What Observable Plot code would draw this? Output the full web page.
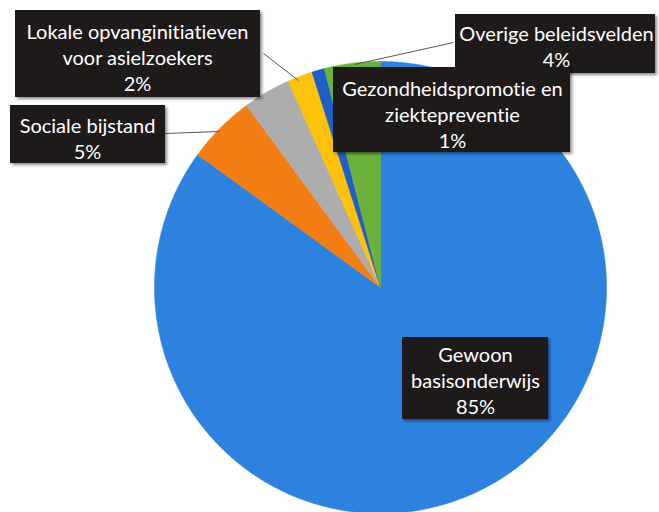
<!DOCTYPE html>
<html>
<head>
<meta charset="utf-8">
<script src="https://cdn.jsdelivr.net/npm/d3@7"></script>
<script src="https://cdn.jsdelivr.net/npm/@observablehq/plot@0.6"></script>
<style>
  html, body { margin: 0; padding: 0; background: #ffffff; }
  #chart svg { display: block; }
  #chart text { font-variant-ligatures: none; font-feature-settings: "liga" 0, "clig" 0; }
  #chart g[aria-label="rect"] rect { filter: drop-shadow(2px 2px 1.5px rgba(0,0,0,0.45)); }
</style>
</head>
<body>
<div id="chart"></div>
<script>
// ---- data ----
const categories = [
  "Gewoon basisonderwijs",
  "Sociale bijstand",
  "Andere",
  "Lokale opvanginitiatieven voor asielzoekers",
  "Gezondheidspromotie en ziektepreventie",
  "Overige beleidsvelden"
];
const values = [85.0, 4.9, 3.4, 1.8, 0.9, 4.0];
const percentLabels = ["85%", "5%", "", "2%", "1%", "4%"];
const labelLines = [
  ["Gewoon", "basisonderwijs"],
  ["Sociale bijstand"],
  [],
  ["Lokale opvanginitiatieven", "voor asielzoekers"],
  ["Gezondheidspromotie en", "ziektepreventie"],
  ["Overige beleidsvelden"]
];

// ---- styling / layout ----
const colors = ["#2e82df", "#f27d12", "#adadad", "#fec20a", "#1f5ec6", "#6bb13c"];
const W = 659, H = 512;
const pie = {cx: 380, cy: 287, r: 226};
// label boxes (layout) in chart coordinates
const boxLayout = {
  "Gewoon basisonderwijs": {x1: 402, x2: 548, y1: 337, y2: 419, tx: 475, ty: 379},
  "Sociale bijstand": {x1: 10, x2: 165, y1: 105, y2: 163, tx: 87, ty: 137},
  "Lokale opvanginitiatieven voor asielzoekers": {x1: 15, x2: 260, y1: 10, y2: 97, tx: 137, ty: 56},
  "Overige beleidsvelden": {x1: 455, x2: 655, y1: 14, y2: 73, tx: 556, ty: 45},
  "Gezondheidspromotie en ziektepreventie": {x1: 333, x2: 570, y1: 67, y2: 152, tx: 452, ty: 113}
};
const leaderLayout = [
  {x1: 263, y1: 53, x2: 298, y2: 80},
  {x1: 165, y1: 133, x2: 219, y2: 131},
  {x1: 453, y1: 42, x2: 354, y2: 64}
];

// ---- pie geometry from values ----
const arcs = d3.pie().sort(null).value(d => d.value)(
  categories.map((c, i) => ({category: c, value: values[i]}))
);
const slicePts = [];
for (const a of arcs) {
  const cat = a.data.category;
  slicePts.push({category: cat, x: pie.cx, y: pie.cy});
  const n = Math.max(2, Math.ceil((a.endAngle - a.startAngle) / (Math.PI / 360)));
  for (let k = 0; k <= n; k++) {
    const t = a.startAngle + (a.endAngle - a.startAngle) * k / n;
    slicePts.push({category: cat, x: pie.cx + pie.r * Math.sin(t), y: pie.cy - pie.r * Math.cos(t)});
  }
  slicePts.push({category: cat, x: pie.cx, y: pie.cy});
}

// label data, drawn in order (Overige under Gezondheid)
const order = ["Gewoon basisonderwijs", "Sociale bijstand", "Lokale opvanginitiatieven voor asielzoekers", "Overige beleidsvelden", "Gezondheidspromotie en ziektepreventie"];
const labels = order.map(c => {
  const i = categories.indexOf(c);
  return {category: c, text: [...labelLines[i], percentLabels[i]].join("\n"), ...boxLayout[c]};
});

const chart = Plot.plot({
  width: W,
  height: H,
  margin: 0,
  x: {domain: [0, W], range: [0, W], axis: null},
  y: {domain: [0, H], range: [0, H], axis: null},
  color: {domain: categories, range: colors},
  style: {fontFamily: "Lato, 'Open Sans', sans-serif", background: "#ffffff"},
  marks: [
    Plot.line(slicePts, {x: "x", y: "y", z: "category", fill: "category", stroke: "category", strokeWidth: 0.6, curve: "linear"}),
    Plot.link(leaderLayout, {x1: "x1", y1: "y1", x2: "x2", y2: "y2", stroke: "#5a5a5a", strokeWidth: 1}),
    ...labels.flatMap(l => [
      Plot.rect([l], {x1: "x1", x2: "x2", y1: "y1", y2: "y2", fill: "#1e1a1a"}),
      Plot.text([l], {x: "tx", y: "ty", text: "text", fill: "#ffffff", fontSize: 20, lineHeight: 1.3})
    ])
  ]
});
document.getElementById("chart").appendChild(chart);
</script>
</body>
</html>
